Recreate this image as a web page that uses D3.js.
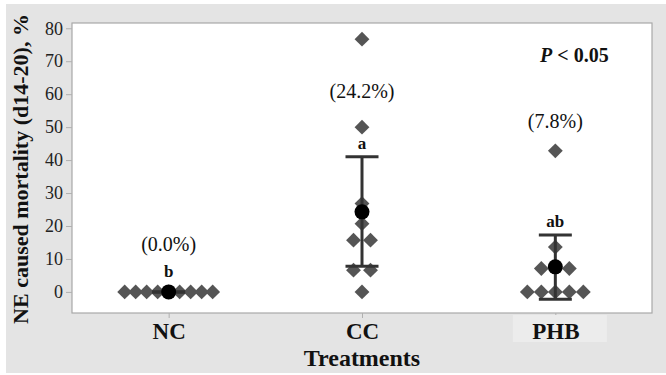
<html>
<head>
    <title>NE caused mortality</title>
    <style>
        body { margin: 0; background: #ffffff; }
        text { font-family: "Liberation Serif", "Times New Roman", serif; }
    </style>
</head>
<body>
<div id="chart-holder"></div>
<script src="https://d3js.org/d3.v7.min.js"></script>
<script>
// data
var categories = ['NC', 'CC', 'PHB'];
var ncValues = [0, 0, 0, 0, 0, 0, 0, 0, 0];
var ccValues = [0, 6.6, 6.6, 15.7, 15.7, 20.7, 26.8, 50, 76.7];
var phbValues = [0, 0, 0, 0, 0, 7.1, 7.1, 13.6, 42.8];
var means = [0, 24.3, 7.6];
var ciLow = [0, 7.8, -2.2];
var ciHigh = [0, 41.0, 17.3];
var meanLabels = ['(0.0%)', '(24.2%)', '(7.8%)'];
var letters = ['b', 'a', 'ab'];
var yTicks = [0, 10, 20, 30, 40, 50, 60, 70, 80];

var width = 666;
var height = 375;
var margin = {top: 23, right: 14, bottom: 62, left: 72};
var innerWidth = width - margin.left - margin.right;
var innerHeight = height - margin.top - margin.bottom;

var svg = d3.select('#chart-holder')
    .append('svg')
    .attr('width', width)
    .attr('height', height);

// grey figure background
svg.append('rect')
    .attr('x', 6).attr('y', 4)
    .attr('width', 660).attr('height', 369)
    .attr('fill', '#e4e4e4');

var g = svg.append('g')
    .attr('transform', 'translate(' + margin.left + ',' + margin.top + ')');

// scales
var x = d3.scalePoint()
    .domain(categories)
    .range([0, innerWidth])
    .padding(0.5);

var y = d3.scaleLinear()
    .domain([-6.4, 81.6])
    .range([innerHeight, 0]);

// plot area
g.append('rect')
    .attr('width', innerWidth)
    .attr('height', innerHeight)
    .attr('fill', '#ffffff')
    .attr('stroke', '#a8a8a8')
    .attr('stroke-width', 1.2);

// axes
var yAxis = g.append('g')
    .attr('class', 'y-axis')
    .call(d3.axisLeft(y).tickValues(yTicks).tickSize(6).tickPadding(3))
    .attr('font-family', '"Liberation Serif", serif')
    .attr('font-size', 18);

var xAxis = g.append('g')
    .attr('class', 'x-axis')
    .attr('transform', 'translate(0,' + innerHeight + ')')
    .call(d3.axisBottom(x).tickSize(5).tickPadding(5))
    .attr('font-family', '"Liberation Serif", serif')
    .attr('font-size', 23)
    .attr('font-weight', 'bold');

yAxis.select('.domain').remove();
xAxis.select('.domain').remove();
g.selectAll('.tick line').attr('stroke', '#b0b0b0');

yAxis.selectAll('.tick text').attr('fill', '#222');

// lighter patch behind PHB label
xAxis.selectAll('.tick')
    .filter(function(d) { return d === 'PHB'; })
    .insert('rect', 'text')
    .attr('x', -43).attr('y', 2)
    .attr('width', 94).attr('height', 27)
    .attr('fill', '#ececec');

xAxis.selectAll('.tick text').attr('fill', '#111');

// axis titles
g.append('text')
    .attr('x', innerWidth / 2)
    .attr('y', innerHeight + 53)
    .attr('text-anchor', 'middle')
    .style('font-size', '24px')
    .style('font-weight', 'bold')
    .attr('fill', '#111')
    .text('Treatments');

svg.append('text')
    .attr('transform', 'translate(28,169) rotate(-90)')
    .attr('text-anchor', 'middle')
    .style('font-size', '22px')
    .style('font-weight', 'bold')
    .attr('fill', '#111')
    .text('NE caused mortality (d14-20), %');

// individual values, dodged sideways when equal
var groups = [ncValues, ccValues, phbValues];
var dodgeStep = {NC: 11, CC: 8.5, PHB: 14};
var points = [];
groups.forEach(function(vals, ci) {
    var cat = categories[ci];
    var counts = d3.group(vals, function(v) { return v; });
    counts.forEach(function(list, v) {
        var n = list.length;
        list.forEach(function(_, i) {
            var k;
            if (n % 2 === 1) {
                k = i - (n - 1) / 2;
            } else {
                var half = n / 2;
                k = i < half ? i - half : i - half + 1;
            }
            points.push({cat: cat, value: v, dx: k * dodgeStep[cat]});
        });
    });
});

var diamond = d3.symbol().type(d3.symbolSquare).size(110);

g.selectAll('.pt')
    .data(points)
    .enter()
    .append('path')
    .attr('class', 'pt')
    .attr('d', diamond)
    .attr('transform', function(d) {
        return 'translate(' + (x(d.cat) + d.dx) + ',' + y(d.value) + ') rotate(45)';
    })
    .attr('fill', '#555555');

// confidence interval bars
var bars = g.selectAll('.ci')
    .data(categories)
    .enter()
    .append('g')
    .attr('class', 'ci')
    .attr('stroke', '#333333')
    .attr('stroke-width', 3);

bars.append('line')
    .attr('x1', function(d) { return x(d); })
    .attr('x2', function(d) { return x(d); })
    .attr('y1', function(d, i) { return y(ciLow[i]); })
    .attr('y2', function(d, i) { return y(ciHigh[i]); });

bars.append('line')
    .attr('x1', function(d) { return x(d) - 16.5; })
    .attr('x2', function(d) { return x(d) + 16.5; })
    .attr('y1', function(d, i) { return y(ciLow[i]); })
    .attr('y2', function(d, i) { return y(ciLow[i]); });

bars.append('line')
    .attr('x1', function(d) { return x(d) - 16.5; })
    .attr('x2', function(d) { return x(d) + 16.5; })
    .attr('y1', function(d, i) { return y(ciHigh[i]); })
    .attr('y2', function(d, i) { return y(ciHigh[i]); });

// means
g.selectAll('.mean')
    .data(categories)
    .enter()
    .append('circle')
    .attr('class', 'mean')
    .attr('cx', function(d) { return x(d); })
    .attr('cy', function(d, i) { return y(means[i]); })
    .attr('r', 7.5)
    .attr('fill', '#000');

// significance letters
g.selectAll('.letter')
    .data(categories)
    .enter()
    .append('text')
    .attr('class', 'letter')
    .attr('x', function(d) { return x(d); })
    .attr('y', function(d, i) { return Math.min(y(ciHigh[i]) - 8, y(means[i]) - 15); })
    .attr('text-anchor', 'middle')
    .style('font-size', '17px')
    .style('font-weight', 'bold')
    .attr('fill', '#111')
    .text(function(d, i) { return letters[i]; });

// mean percentage labels (placed by hand in data units)
var labelAt = [12.4, 58.8, 49.7];
g.selectAll('.pct')
    .data(categories)
    .enter()
    .append('text')
    .attr('class', 'pct')
    .attr('x', function(d) { return x(d); })
    .attr('y', function(d, i) { return y(labelAt[i]); })
    .attr('text-anchor', 'middle')
    .style('font-size', '20px')
    .attr('fill', '#111')
    .text(function(d, i) { return meanLabels[i]; });

// p value
var p = g.append('text')
    .attr('x', x('PHB') + 19)
    .attr('y', y(69.7))
    .attr('text-anchor', 'middle')
    .style('font-size', '20px')
    .style('font-weight', 'bold')
    .attr('fill', '#111');
p.append('tspan').style('font-style', 'italic').text('P');
p.append('tspan').text(' < 0.05');
</script>
</body>
</html>
